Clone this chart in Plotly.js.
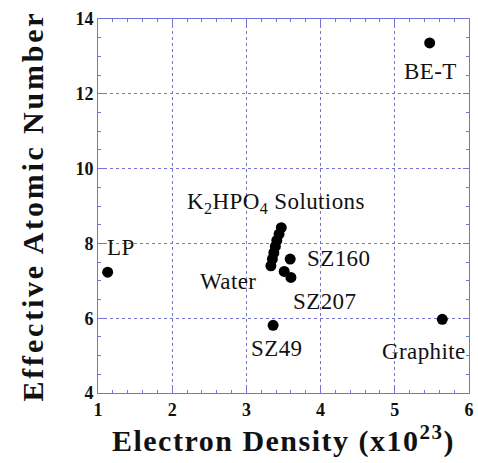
<!DOCTYPE html>
<html>
<head>
<meta charset="utf-8">
<script src="https://cdn.plot.ly/plotly-3.0.1.min.js"></script>
<style>
html,body{margin:0;padding:0;background:#fff;}
#chart{width:478px;height:463px;}
.xtitle{letter-spacing:1.5px;}
.ytitle{letter-spacing:2.8px;}
.annotation-text{letter-spacing:0.4px;}
</style>
</head>
<body>
<div id="chart"></div>
<script>
// Data (electron density x10^23, effective atomic number)
var solutionX = [3.33, 3.35, 3.37, 3.39, 3.41, 3.44, 3.47];
var solutionY = [7.40, 7.58, 7.75, 7.92, 8.08, 8.25, 8.42];
var sampleNames = ["BE-T", "LP", "Graphite", "SZ49", "SZ160", "SZ207", "SZ207b"];
var sampleX = [5.47, 1.13, 5.64, 3.36, 3.59, 3.51, 3.60];
var sampleY = [13.36, 7.23, 5.97, 5.81, 7.58, 7.25, 7.09];

var labelText = ["BE-T", "LP", "K<sub>2</sub>HPO<sub>4</sub> Solutions", "Water", "SZ160", "SZ207", "SZ49", "Graphite"];
var labelX = [5.48, 1.31, 3.40, 2.75, 4.24, 4.05, 3.41, 5.39];
var labelY = [12.59, 7.89, 9.09, 6.99, 7.60, 6.45, 5.20, 5.12];

var blue = '#7474d8';
var serif = 'Liberation Serif, Times New Roman, serif';

var traces = [
  {x: solutionX, y: solutionY, mode: 'markers', type: 'scatter',
   marker: {color: '#000', size: 11}, hoverinfo: 'none'},
  {x: sampleX, y: sampleY, mode: 'markers', type: 'scatter', text: sampleNames,
   marker: {color: '#000', size: 11}, hoverinfo: 'none'}
];

var annotations = labelText.map(function (t, i) {
  return {x: labelX[i], y: labelY[i], xref: 'x', yref: 'y', text: t,
          showarrow: false, font: {family: serif, size: 23, color: '#111'},
          xanchor: 'center', yanchor: 'middle'};
});

var axisCommon = {
  showline: true, linecolor: blue, linewidth: 1, mirror: 'ticks',
  ticks: 'inside', ticklen: 6, tickcolor: blue, tickwidth: 1,
  showgrid: true, gridcolor: blue, griddash: 'dot', gridwidth: 1,
  zeroline: false,
  tickfont: {family: serif, size: 18, color: '#111', weight: 'bold'}
};

var layout = {
  width: 478, height: 463,
  margin: {l: 98, r: 9, t: 19, b: 70},
  paper_bgcolor: '#fff', plot_bgcolor: '#fff',
  font: {family: serif, size: 21, color: '#111'},
  showlegend: false,
  xaxis: Object.assign({}, axisCommon, {
    range: [1, 6], dtick: 1, tick0: 1,
    minor: {dtick: 0.2, ticks: 'inside', ticklen: 3, tickcolor: blue, showgrid: false},
    title: {text: '<b>Electron Density (x10<sup>23</sup>)</b>', standoff: 10,
            font: {family: serif, size: 30, color: '#111'}}
  }),
  yaxis: Object.assign({}, axisCommon, {
    range: [4, 14], dtick: 2, tick0: 4,
    minor: {dtick: 0.5, ticks: 'inside', ticklen: 3, tickcolor: blue, showgrid: false},
    title: {text: '<b>Effective Atomic Number</b>', standoff: 22,
            font: {family: serif, size: 30, color: '#111'}}
  }),
  annotations: annotations
};

Plotly.newPlot('chart', traces, layout, {staticPlot: true});
</script>
</body>
</html>
